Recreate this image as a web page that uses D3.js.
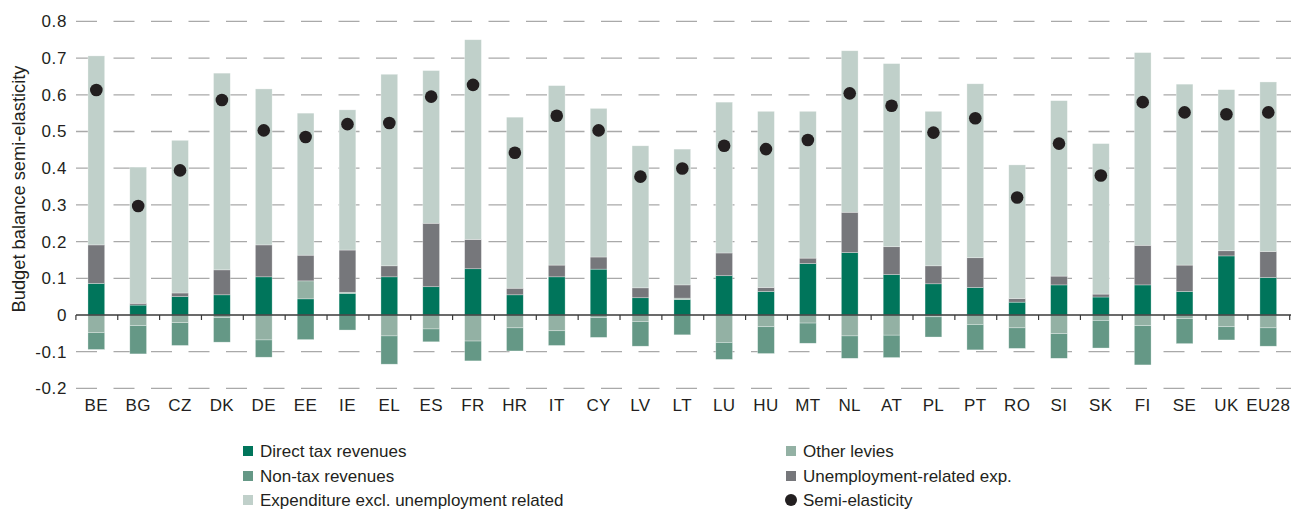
<!DOCTYPE html>
<html lang="en">
<head>
    <meta charset="UTF-8">
    <title>Budget balance semi-elasticity</title>
    <script src="https://d3js.org/d3.v7.min.js"></script>
    <style>
        body { margin: 0; background: #fff; }
        text { font-family: "Liberation Sans", Arial, sans-serif; fill: #231f20; }
    </style>
</head>
<body>
    <script>
        const countries = ["BE","BG","CZ","DK","DE","EE","IE","EL","ES","FR","HR","IT","CY","LV","LT","LU","HU","MT","NL","AT","PL","PT","RO","SI","SK","FI","SE","UK","EU28"];

        const directTax   = [0.086,0.027,0.050,0.055,0.104,0.044,0.059,0.104,0.077,0.126,0.055,0.104,0.125,0.047,0.042,0.107,0.064,0.140,0.170,0.110,0.085,0.075,0.035,0.082,0.049,0.082,0.064,0.161,0.102];
        const otherLevies = [-0.048,-0.029,-0.021,-0.007,-0.068,0.049,0.003,-0.057,-0.038,-0.071,-0.035,-0.043,-0.007,-0.018,0.004,-0.075,-0.032,-0.022,-0.057,-0.055,-0.005,-0.026,-0.035,-0.051,-0.015,-0.029,-0.010,-0.032,-0.035];
        const nonTax      = [-0.046,-0.077,-0.062,-0.067,-0.047,-0.067,-0.041,-0.077,-0.035,-0.054,-0.063,-0.040,-0.054,-0.067,-0.054,-0.046,-0.073,-0.055,-0.061,-0.061,-0.055,-0.069,-0.056,-0.067,-0.075,-0.107,-0.068,-0.036,-0.050];
        const unemployment= [0.105,0.005,0.010,0.068,0.087,0.070,0.115,0.030,0.173,0.080,0.018,0.032,0.033,0.027,0.036,0.062,0.011,0.015,0.110,0.076,0.049,0.081,0.010,0.024,0.008,0.108,0.072,0.014,0.071];
        const expenditure = [0.515,0.371,0.416,0.536,0.425,0.387,0.382,0.522,0.416,0.544,0.466,0.489,0.405,0.387,0.370,0.411,0.480,0.400,0.440,0.499,0.421,0.474,0.364,0.478,0.410,0.525,0.493,0.439,0.462];
        const semiElasticity = [0.613,0.297,0.394,0.586,0.503,0.485,0.520,0.523,0.595,0.627,0.442,0.543,0.503,0.377,0.399,0.461,0.452,0.477,0.604,0.570,0.497,0.536,0.320,0.467,0.380,0.580,0.552,0.547,0.552];

        const yTicks = [-0.2,-0.1,0,0.1,0.2,0.3,0.4,0.5,0.6,0.7,0.8];

        const series = [
            { key: "direct", label: "Direct tax revenues", values: directTax, color: "#00755b" },
            { key: "levies", label: "Other levies", values: otherLevies, color: "#93b1a4" },
            { key: "nontax", label: "Non-tax revenues", values: nonTax, color: "#659886" },
            { key: "unemp", label: "Unemployment-related exp.", values: unemployment, color: "#76777b" },
            { key: "exp", label: "Expenditure excl. unemployment related", values: expenditure, color: "#c0d0ca" }
        ];

        const width = 1291, height = 512;

        // table for d3.stack
        const rows = countries.map((c, i) => {
            const r = { country: c };
            series.forEach(s => r[s.key] = s.values[i]);
            return r;
        });

        const stack = d3.stack()
            .keys(series.map(s => s.key))
            .offset(d3.stackOffsetDiverging);
        const stacked = stack(rows);

        const x = d3.scaleBand()
            .domain(countries)
            .range([75.4, 1289.2])
            .paddingInner(0.6)
            .paddingOuter(0.3);

        const y = d3.scaleLinear()
            .domain([-0.2, 0.8])
            .range([388.4, 21.4]);

        const color = d3.scaleOrdinal()
            .domain(series.map(s => s.key))
            .range(series.map(s => s.color));

        const svg = d3.select("body").append("svg")
            .attr("width", width)
            .attr("height", height);

        // grid
        svg.append("g").selectAll("line")
            .data(yTicks.filter(d => d !== 0))
            .enter().append("line")
            .attr("x1", 76).attr("x2", 1291)
            .attr("y1", d => y(d)).attr("y2", d => y(d))
            .attr("stroke", "#a9a9a9")
            .attr("stroke-width", 1.3)
            .attr("stroke-dasharray", "21,16.5");

        // y labels
        svg.append("g").selectAll("text")
            .data(yTicks)
            .enter().append("text")
            .attr("x", 67)
            .attr("y", d => y(d))
            .attr("dy", "0.35em")
            .attr("text-anchor", "end")
            .style("font-size", "17px")
            .style("letter-spacing", "0.6px")
            .text(d => d === 0 ? "0" : d3.format(".1f")(d).replace("−", "-"));

        svg.append("text")
            .attr("transform", "translate(25," + 189 + ") rotate(-90)")
            .attr("text-anchor", "middle")
            .style("font-size", "18.3px")
            .text("Budget balance semi-elasticity");

        // bars
        svg.append("g").selectAll("g")
            .data(stacked)
            .enter().append("g")
            .attr("fill", d => color(d.key))
            .selectAll("rect")
            .data(d => d)
            .enter().append("rect")
            .attr("x", d => x(d.data.country))
            .attr("width", x.bandwidth())
            .attr("y", d => y(Math.max(d[0], d[1])))
            .attr("height", d => Math.abs(y(d[0]) - y(d[1])))
            .attr("stroke", "#ffffff")
            .attr("stroke-opacity", 0.5)
            .attr("stroke-width", 0.6);

        // zero axis with ticks between bars
        const zero = svg.append("g");
        zero.append("line")
            .attr("x1", 76).attr("x2", 1291)
            .attr("y1", y(0)).attr("y2", y(0))
            .attr("stroke", "#3a3a3a")
            .attr("stroke-width", 1.3);
        const step = x.step();
        zero.selectAll("line.tick")
            .data(d3.range(countries.length + 1))
            .enter().append("line")
            .attr("class", "tick")
            .attr("x1", i => 75.4 + i * step + 0.5)
            .attr("x2", i => 75.4 + i * step + 0.5)
            .attr("y1", y(0)).attr("y2", y(0) + 5)
            .attr("stroke", "#3a3a3a")
            .attr("stroke-width", 1.2);

        // x labels
        svg.append("g").selectAll("text")
            .data(countries)
            .enter().append("text")
            .attr("x", d => x(d) + x.bandwidth() / 2)
            .attr("y", 411)
            .attr("text-anchor", "middle")
            .style("font-size", "17px")
            .style("letter-spacing", "0.4px")
            .text(d => d);

        // dots
        svg.append("g").selectAll("circle")
            .data(countries)
            .enter().append("circle")
            .attr("cx", (d) => x(d) + x.bandwidth() / 2)
            .attr("cy", (d, i) => y(semiElasticity[i]))
            .attr("r", 6.3)
            .attr("fill", "#231f20");

        // legend
        const legendItems = [
            { label: "Direct tax revenues", color: "#00755b", col: 0, row: 0 },
            { label: "Non-tax revenues", color: "#659886", col: 0, row: 1 },
            { label: "Expenditure excl. unemployment related", color: "#c0d0ca", col: 0, row: 2 },
            { label: "Other levies", color: "#93b1a4", col: 1, row: 0 },
            { label: "Unemployment-related exp.", color: "#76777b", col: 1, row: 1 },
            { label: "Semi-elasticity", color: "#231f20", col: 1, row: 2, dot: true }
        ];
        const colX = [243, 786];
        const rowY = [451, 476, 500];
        const lg = svg.append("g").selectAll("g")
            .data(legendItems)
            .enter().append("g")
            .attr("transform", d => "translate(" + colX[d.col] + "," + rowY[d.row] + ")");
        lg.filter(d => !d.dot).append("rect")
            .attr("x", 0).attr("y", -5)
            .attr("width", 10).attr("height", 10)
            .attr("fill", d => d.color);
        lg.filter(d => d.dot).append("circle")
            .attr("cx", 5).attr("cy", 0).attr("r", 6)
            .attr("fill", d => d.color);
        lg.append("text")
            .attr("x", 17)
            .attr("dy", "0.35em")
            .style("font-size", "17px")
            .text(d => d.label);
    </script>
</body>
</html>
